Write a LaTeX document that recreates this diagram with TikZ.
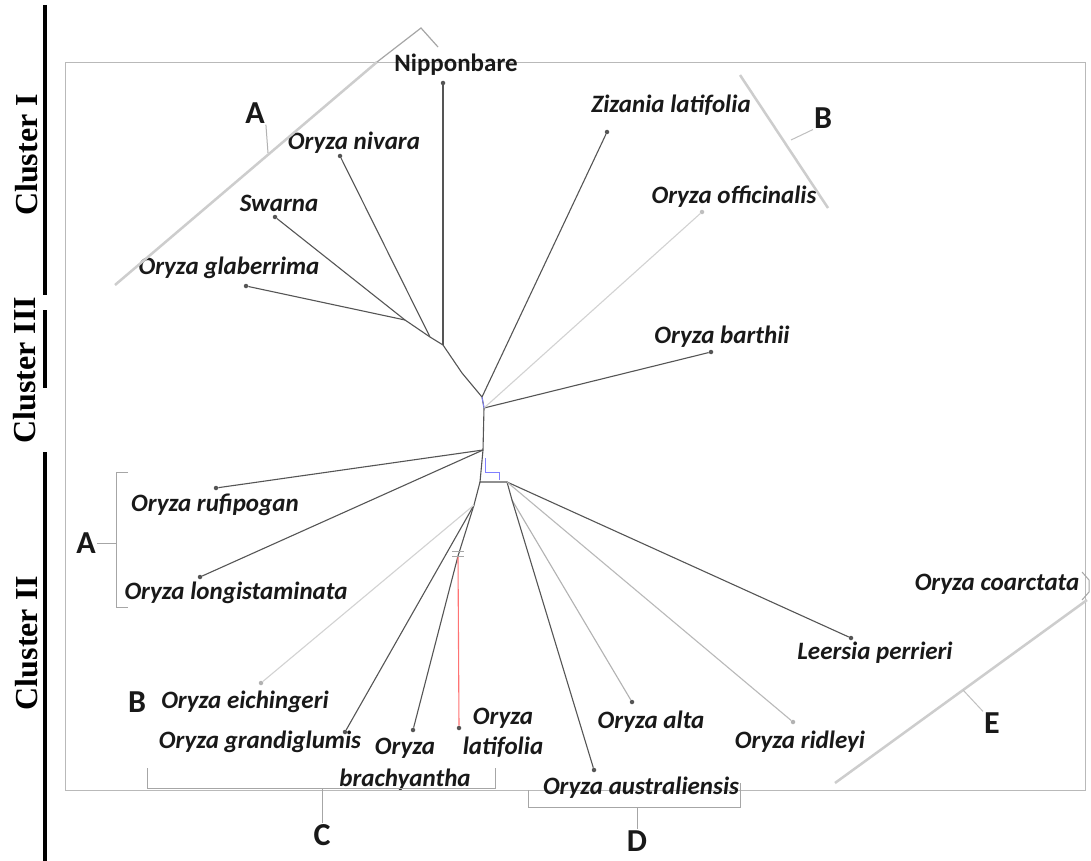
\documentclass[tikz,border=0pt]{standalone}
\usepackage{fontspec}
\setmainfont{Liberation Serif}
\setsansfont{Carlito}
\usetikzlibrary{positioning}
\definecolor{branchgray}{RGB}{85,85,85}
\definecolor{bracegray}{RGB}{205,205,205}

\begin{document}
\begin{tikzpicture}[x=1pt,y=-1pt,
  taxon/.style={font=\sffamily\bfseries\itshape\fontsize{25}{31}\selectfont,inner sep=1pt,align=center,text=black!90},
  tipdot/.style={circle,fill=branchgray,inner sep=0pt,minimum size=4.5pt},
  branch/.style={draw=branchgray,line width=1.1pt},
  faint/.style={draw=gray!35,line width=1.1pt},
  grp/.style={font=\sffamily\bfseries\fontsize{32}{32}\selectfont,inner sep=1pt,text=black!90},
  clus/.style={font=\bfseries\fontsize{32}{32}\selectfont,rotate=90,inner sep=0pt},
  bar/.style={line width=4pt},
  brace/.style={draw=gray!70,line width=1pt},
  shade/.style={draw=bracegray,line width=2.5pt}
]
  \useasboundingbox (0,0) rectangle (1091,861);
  \fill[white] (0,0) rectangle (1091,861);
  \draw[gray!55,line width=0.7pt] (65,62) rectangle (1085,790);

  \draw[bar] (45,5) -- (45,295);
  \draw[bar] (45,310) -- (45,388);
  \draw[bar] (45,452) -- (45,861);
  \node[clus] (c1) at (27,155) {Cluster I};
  \node[clus] (c3) at (25,370) {Cluster III};
  \node[clus] (c2) at (27,643) {Cluster II};

  \coordinate (g1) at (405,320);
  \coordinate (g2) at (430,337);
  \coordinate (g3) at (443,345);
  \coordinate (g4) at (462,373);
  \coordinate (g5) at (482,397);
  \coordinate (g6) at (484,408);
  \coordinate (g7) at (483,450);
  \coordinate (g8) at (480,482);
  \coordinate (g9) at (507,482);
  \coordinate (g10) at (512,500);
  \coordinate (g11) at (474,505);
  \coordinate (g12) at (458,556);

  \node[tipdot] (nipD) at (443,83) {};
  \node[tipdot] (nivD) at (340,156) {};
  \node[tipdot] (swaD) at (275,217) {};
  \node[tipdot] (glaD) at (246,286) {};
  \node[tipdot] (zizD) at (607,132) {};
  \node[tipdot,fill=gray!50] (offD) at (702,212) {};
  \node[tipdot] (barD) at (711,352) {};
  \node[tipdot] (rufD) at (216,488) {};
  \node[tipdot] (lonD) at (200,577) {};
  \node[tipdot,fill=gray!60] (eicD) at (261,683) {};
  \node[tipdot] (graD) at (345,732) {};
  \node[tipdot] (braD) at (413,730) {};
  \node[tipdot] (latD) at (459,728) {};
  \node[tipdot] (altD) at (632,702) {};
  \node[tipdot] (ausD) at (594,770) {};
  \node[tipdot,fill=gray!60] (ridD) at (793,722) {};
  \node[tipdot] (leeD) at (851,638) {};

  \node[taxon,font=\sffamily\bfseries\fontsize{25}{31}\selectfont] (nip) at (456,65) {Nipponbare};
  \node[taxon] (niv) at (354,143) {Oryza nivara};
  \node[taxon] (swa) at (279,203) {Swarna};
  \node[taxon] (gla) at (229,268) {Oryza glaberrima};
  \node[taxon] (ziz) at (671,105) {Zizania latifolia};
  \node[taxon] (off) at (734,197) {Oryza officinalis};
  \node[taxon] (bar) at (722,337) {Oryza barthii};
  \node[taxon] (ruf) at (215,505) {Oryza rufipogan};
  \node[taxon] (lon) at (236,593) {Oryza longistaminata};
  \node[taxon] (eic) at (245,702) {Oryza eichingeri};
  \node[taxon] (gra) at (260,742) {Oryza grandiglumis};
  \node[taxon,font=\sffamily\bfseries\itshape\fontsize{25}{32}\selectfont] (bra) at (405,764) {Oryza\\brachyantha};
  \node[taxon,font=\sffamily\bfseries\itshape\fontsize{25}{30}\selectfont] (lat) at (503,733) {Oryza\\latifolia};
  \node[taxon] (alt) at (651,722) {Oryza alta};
  \node[taxon] (aus) at (641,788) {Oryza australiensis};
  \node[taxon] (rid) at (800,742) {Oryza ridleyi};
  \node[taxon] (lee) at (875,653) {Leersia perrieri};
  \node[taxon] (coa) at (997,584) {Oryza coarctata};

  \draw[branch] (g1) -- (g2) -- (g3) -- (g4) -- (g5) -- (g6) -- (g7) -- (g8) -- (g9) -- (g10);
  \draw[branch] (g8) -- (g11) -- (g12);
  \draw[branch] (glaD) -- (g1);
  \draw[branch] (swaD) -- (g1);
  \draw[branch] (nivD) -- (g2);
  \draw[branch] (nipD) -- (g3);
  \draw[branch] (zizD) -- (g5);
  \draw[branch] (barD) -- (g6);
  \draw[branch] (rufD) -- (g7);
  \draw[branch] (lonD) -- (g7);
  \draw[branch] (leeD) -- (g9);
  \draw[branch,draw=gray!60] (altD) -- (g10);
  \draw[branch] (ausD) -- (g10);
  \draw[branch] (graD) -- (g11);
  \draw[branch] (braD) -- (g12);
  \draw[branch,draw=red!55] (latD) -- (g12);
  \draw[branch,draw=gray!55] (ridD) -- (g9);
  \draw[faint] (offD) -- (g6);
  \draw[faint] (eicD) -- (g11);
  \draw[gray!70] (g12) ++(-6,-5) -- ++(12,0) ++(-12,5) -- ++(12,0);
  \draw[blue!50,line width=0.8pt] (g5) -- (g6);
  \draw[blue!50,line width=0.8pt] (g7) ++(2,8) |- ++(14,14) -- ++(0,8);

  \node[grp] (grpA) at (255,113) {A};
  \draw[shade] (115,285) -- (377,62);
  \draw[brace,line width=1.2pt] (377,62) -- (421,28) -- (438,47);
  \draw[brace,draw=gray!60] (268,153) -- (grpA.south east);

  \node[grp] (grpB) at (823,118) {B};
  \draw[shade] (740,75) -- (828,208);
  \draw[brace,draw=gray!50] (791,140) -- (grpB.south west);

  \node[grp] (grpAl) at (86,543) {A};
  \draw[brace] (128,472) -- (116,472) -- (116,607) -- (128,607);
  \draw[brace] (116,543) -- (grpAl.east);

  \node[grp] (grpBl) at (137,702) {B};

  \node[grp] (grpC) at (322,835) {C};
  \draw[brace] (147,768) |- (495,788) -- (495,768);
  \draw[brace] (322,788) -- (grpC.north);

  \node[grp] (grpD) at (637,841) {D};
  \draw[brace] (528,790) |- (740,807) -- (740,783);
  \draw[brace] (637,807) -- (grpD.north);

  \node[grp] (grpE) at (992,723) {E};
  \draw[shade] (1087,600) -- (835,783);
  \draw[brace,draw=gray!50] (963,690) -- (grpE.north west);
  \draw[brace] (1082,572) -- (1089,580) -- (1089,592) -- (1082,600);
\end{tikzpicture}
\end{document}
